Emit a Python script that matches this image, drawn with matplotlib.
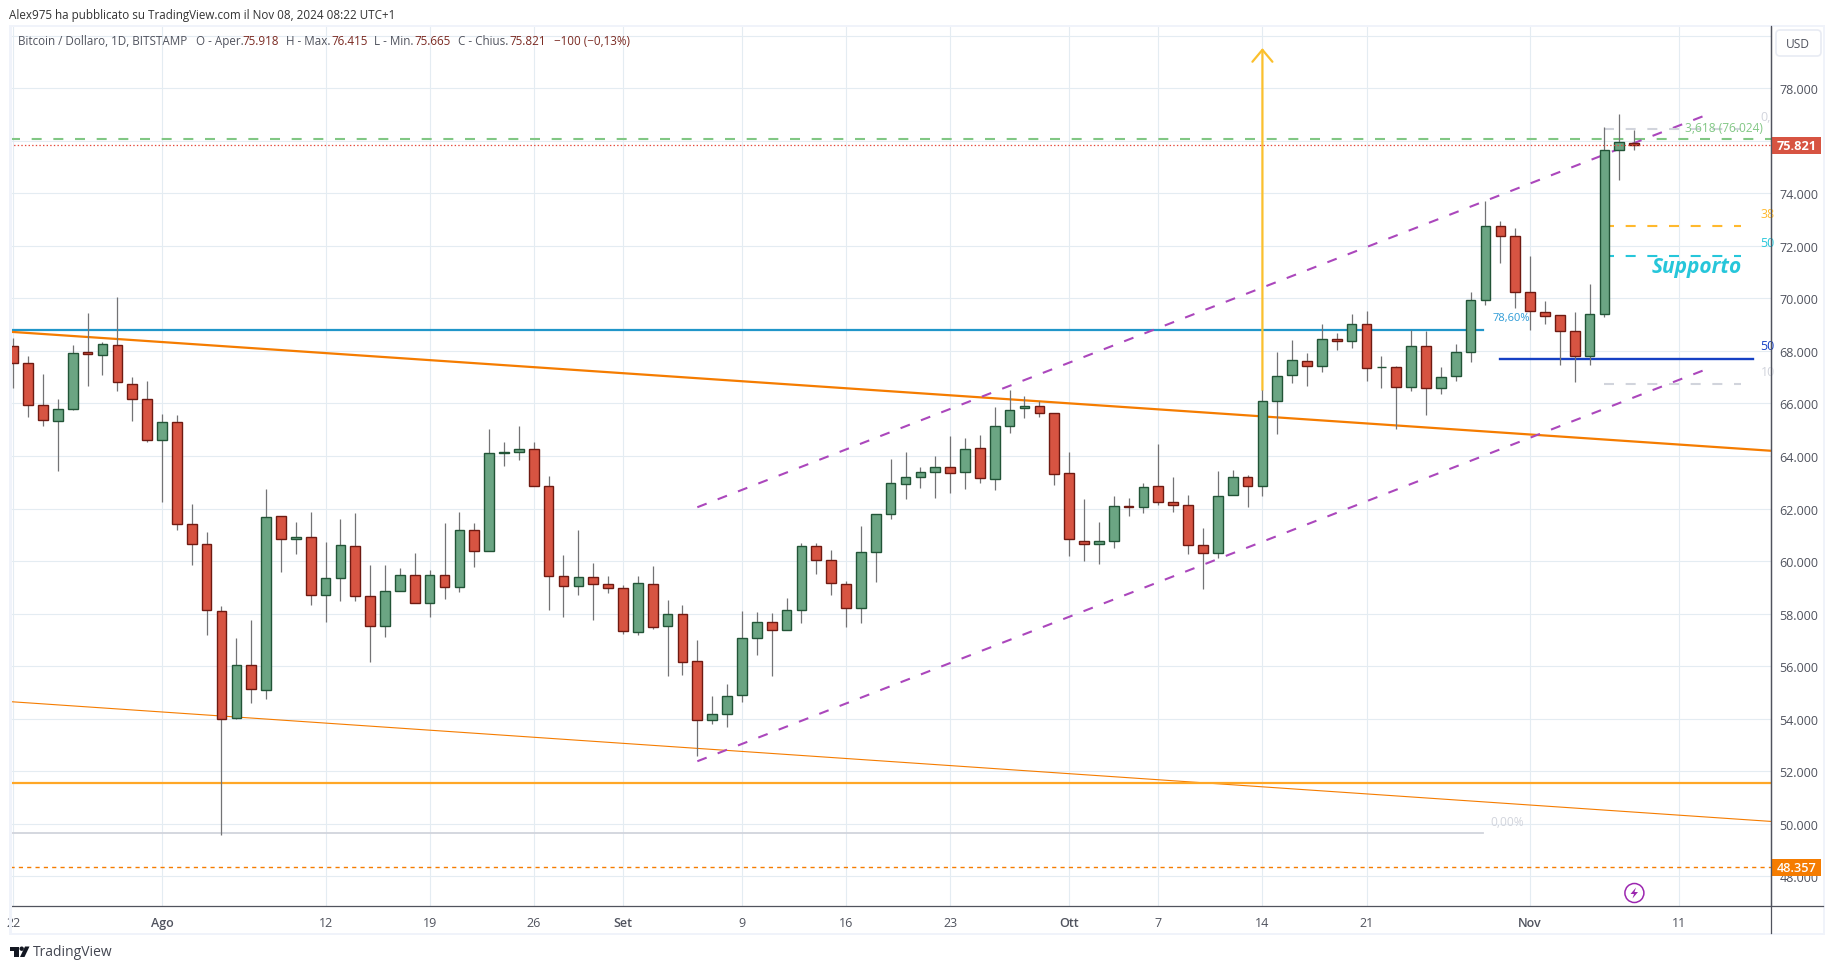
import matplotlib
matplotlib.use("Agg")
import matplotlib.pyplot as plt
from matplotlib.patches import Circle, FancyBboxPatch, Polygon, Rectangle
import numpy as np

plt.rcParams["font.family"] = ["Open Sans", "DejaVu Sans"]
plt.rcParams["lines.scale_dashes"] = False

# candele giornaliere in migliaia di dollari, dal 22 luglio all'8 novembre 2024
opens = [
    68.17, 67.56, 65.94, 65.35, 65.80, 67.96, 67.83, 68.24, 66.76, 66.18,
    64.62, 65.31, 61.42, 60.66, 58.11, 54.03, 56.06, 55.10, 61.73, 60.85,
    60.93, 58.72, 59.37, 60.59, 58.69, 57.54, 58.87, 59.48, 58.41, 59.46,
    59.00, 61.17, 60.37, 64.10, 64.17, 64.25, 62.84, 59.42, 59.04, 59.38,
    59.12, 58.97, 57.29, 59.12, 57.52, 57.98, 56.19, 53.95, 54.18, 54.90,
    57.06, 57.67, 57.37, 58.13, 60.56, 60.03, 59.12, 58.21, 60.33, 61.78,
    62.95, 63.19, 63.38, 63.57, 63.38, 64.29, 63.11, 65.16, 65.81, 65.89,
    65.62, 63.34, 60.75, 60.64, 60.75, 62.09, 62.05, 62.84, 62.24, 62.12,
    60.60, 60.30, 62.50, 63.19, 62.84, 66.08, 67.07, 67.60, 67.41, 68.44,
    68.37, 69.01, 67.37, 67.38, 66.61, 68.18, 66.58, 67.03, 67.95, 69.93,
    72.74, 72.36, 70.23, 69.47, 69.36, 68.75, 67.82, 69.39, 75.64, 75.918,
]
closes = [
    67.56, 65.94, 65.38, 65.80, 67.94, 67.89, 68.28, 66.80, 66.18, 64.62,
    65.31, 61.42, 60.66, 58.15, 54.00, 56.06, 55.14, 61.69, 60.85, 60.93,
    58.72, 59.37, 60.63, 58.68, 57.54, 58.87, 59.48, 58.41, 59.48, 59.00,
    61.17, 60.37, 64.10, 64.17, 64.25, 62.84, 59.42, 59.04, 59.38, 59.12,
    58.97, 57.33, 59.16, 57.48, 57.98, 56.15, 53.95, 54.18, 54.86, 57.06,
    57.67, 57.37, 58.13, 60.56, 60.03, 59.16, 58.21, 60.33, 61.78, 62.96,
    63.22, 63.38, 63.57, 63.34, 64.25, 63.15, 65.16, 65.77, 65.89, 65.62,
    63.30, 60.83, 60.64, 60.75, 62.08, 62.07, 62.81, 62.24, 62.12, 60.60,
    60.30, 62.46, 63.19, 62.84, 66.08, 67.06, 67.64, 67.41, 68.44, 68.37,
    69.01, 67.34, 67.38, 66.61, 68.18, 66.58, 66.99, 67.95, 69.93, 72.74,
    72.36, 70.23, 69.51, 69.34, 68.75, 67.82, 69.39, 75.64, 75.94, 75.821,
]
highs = [
    68.48, 67.80, 67.11, 66.17, 68.23, 69.44, 68.34, 70.06, 67.00, 66.85,
    65.59, 65.55, 62.17, 61.10, 58.28, 57.06, 57.75, 62.73, 61.73, 61.48,
    61.86, 60.72, 61.59, 61.82, 59.85, 59.85, 59.73, 60.30, 59.65, 61.45,
    61.87, 61.45, 65.02, 64.53, 65.14, 64.53, 63.24, 60.23, 61.18, 59.93,
    59.43, 59.08, 59.43, 59.81, 58.52, 58.33, 57.00, 54.87, 55.33, 58.10,
    58.07, 58.03, 58.60, 60.68, 60.68, 60.42, 59.23, 61.34, 61.78, 63.88,
    64.15, 63.58, 64.00, 64.76, 64.68, 64.80, 65.86, 66.51, 66.28, 66.08,
    65.62, 64.15, 62.36, 61.49, 62.48, 62.40, 62.97, 64.45, 63.20, 62.51,
    61.26, 63.43, 63.47, 63.26, 66.51, 67.96, 68.42, 67.92, 69.03, 68.68,
    69.41, 69.52, 67.81, 67.43, 68.80, 68.76, 67.39, 68.26, 70.24, 73.70,
    72.95, 72.68, 71.61, 69.90, 69.36, 69.48, 70.55, 76.51, 77.02, 76.415,
]
lows = [
    66.59, 65.49, 65.15, 63.44, 65.76, 66.68, 67.08, 66.48, 65.34, 64.54,
    62.25, 61.18, 59.86, 57.18, 49.58, 53.97, 54.61, 54.76, 59.58, 60.28,
    58.34, 57.69, 58.48, 58.48, 56.17, 57.11, 58.87, 58.41, 57.87, 58.57,
    58.84, 59.79, 60.37, 63.63, 63.86, 62.84, 58.12, 57.89, 58.72, 57.74,
    58.80, 57.24, 57.17, 57.43, 55.64, 55.68, 52.57, 53.78, 53.67, 54.62,
    56.44, 55.61, 57.37, 57.66, 59.49, 58.72, 57.51, 57.66, 59.22, 61.60,
    62.38, 62.79, 62.41, 62.60, 62.76, 62.98, 62.72, 64.88, 65.45, 65.49,
    62.91, 60.21, 60.02, 59.90, 60.51, 61.73, 61.84, 62.15, 61.88, 60.28,
    58.92, 60.11, 62.50, 62.07, 62.49, 64.85, 66.79, 66.68, 67.21, 68.05,
    68.12, 66.87, 66.60, 65.03, 66.49, 65.57, 66.37, 66.87, 67.59, 69.76,
    71.36, 69.65, 68.81, 69.04, 67.48, 66.83, 67.48, 69.30, 74.52, 75.665,
]

price_ticks = [48, 50, 52, 54, 56, 58, 60, 62, 64, 66, 68, 70, 72, 74, 76, 78, 80]
price_labels = ["48.000", "50.000", "52.000", "54.000", "56.000", "58.000", "60.000", "62.000",
                "64.000", "66.000", "68.000", "70.000", "72.000", "74.000", "76.000", "78.000", ""]
date_ticks = [0, 10, 21, 28, 35, 41, 49, 56, 63, 71, 77, 84, 91, 102, 112]
date_labels = ["22", "Ago", "12", "19", "26", "Set", "9", "16", "23", "Ott", "7", "14", "21", "Nov", "11"]
month_labels = ["Ago", "Set", "Ott", "Nov"]

# disegni sul grafico
last_price = 75.821
fib_618 = 76.07
support_orange = 48.357
resistance_blue = 68.79
support_amber = 51.56
fib_zero = 49.66
wedge_top_x, wedge_top_y = [-0.22, 118.2], [68.73, 64.2]
wedge_low_x, wedge_low_y = [-0.22, 118.2], [54.65, 50.09]
channel_x = [46.0, 114.2]
channel_top = [62.05, 77.06]
channel_low = [52.38, 67.38]
arrow_x, arrow_from, arrow_to = 84, 66.51, 79.53
fib_x = [107, 116.2]
fib_levels = [76.45, 72.75, 71.61, 66.74]
fib_colors = ["#d1d4dc", "#ffb92d", "#26c6da", "#d1d4dc"]
blue_x, blue_y = [100, 117], 67.69

UP, UP_EDGE = "#6ba583", "#225437"
DOWN, DOWN_EDGE = "#d75442", "#6f1a12"
WICK = "#737375"
GRID = "#e4ecf2"
TEXT = "#50535e"
AXIS = "#50535e"
PANEL = "#f0f3fa"
VALUE = "#7b2a22"

fig = plt.figure(figsize=(18.35, 9.70), dpi=100, facecolor="white")
W, H = 1835.0, 970.0
ax = fig.add_axes([10 / W, (H - 907) / H, 1761 / W, 880 / H])
ax.set_xlim(-0.22, 118.2)
ax.set_ylim(46.87, 80.37)

ax.set_xticks(date_ticks)
ax.set_xticklabels(date_labels)
ax.set_yticks(price_ticks)
ax.set_yticklabels(price_labels)
ax.yaxis.tick_right()
ax.tick_params(axis="both", length=0, labelsize=9, labelcolor=TEXT)
ax.tick_params(axis="y", pad=6.2)
ax.tick_params(axis="x", pad=7)
ax.grid(True, color=GRID, lw=0.8)
ax.set_axisbelow(True)
for name in ["left", "top"]:
    ax.spines[name].set_visible(False)
for name in ["right", "bottom"]:
    ax.spines[name].set_color(AXIS)
    ax.spines[name].set_linewidth(0.9)
for lab in ax.get_xticklabels():
    if lab.get_text() in month_labels:
        lab.set_fontweight("semibold")

# livelli e trendline
ax.axhline(resistance_blue, xmax=(98.8 + 0.22) / 118.42, color="#2196c9", lw=1.6, zorder=2)
ax.plot(wedge_top_x, wedge_top_y, color="#f57c00", lw=1.6, zorder=2)
ax.plot(wedge_low_x, wedge_low_y, color="#f57c00", lw=0.8, zorder=2)
ax.axhline(support_amber, color="#ffa726", lw=1.6, zorder=2)
ax.axhline(fib_zero, xmax=(98.8 + 0.22) / 118.42, color="#d1d4dc", lw=1.3, zorder=2)
ax.axhline(support_orange, color="#f57c00", lw=1.0, ls=(0, (3, 3)), zorder=2)
ax.axhline(fib_618, color="#81c784", lw=1.5, ls=(0, (7.2, 8.4)), zorder=2)
ax.axhline(last_price, color="#e5483a", lw=0.9, ls=(0, (1, 1.6)), zorder=5)
ax.plot(channel_x, channel_top, color="#ab47bc", lw=1.5, ls=(0, (7.2, 8.5)), zorder=2)
ax.plot(channel_x, channel_low, color="#ab47bc", lw=1.5, ls=(0, (7.2, 8.5)), zorder=2)
for level, col in zip(fib_levels, fib_colors):
    ax.plot(fib_x, [level, level], color=col, lw=1.5, ls=(0, (7.2, 8.4)), zorder=2)
ax.plot(blue_x, [blue_y, blue_y], color="#1540c4", lw=1.7, zorder=2)
ax.annotate("", xy=(arrow_x, arrow_to), xytext=(arrow_x, arrow_from), zorder=2,
            arrowprops=dict(arrowstyle="->,head_length=0.86,head_width=0.72", color="#fbc02d",
                            lw=1.6, shrinkA=0, shrinkB=0, mutation_scale=10))

# candele
x = np.arange(len(opens))
o, c, h, l = map(np.array, (opens, closes, highs, lows))
rising = c >= o
ax.vlines(x, l, h, color=WICK, lw=0.9, zorder=3)
ax.bar(x[rising], (c - o)[rising], bottom=o[rising], width=0.65, color=UP, edgecolor=UP_EDGE, lw=1.0, zorder=4)
ax.bar(x[~rising], (o - c)[~rising], bottom=c[~rising], width=0.65, color=DOWN, edgecolor=DOWN_EDGE, lw=1.0, zorder=4)

# etichette dei disegni: si vede solo la parte prima dell'asse
ax.text(99.5, 69.27, "78,60%", color="#2e9bd6", fontsize=8, ha="left", va="center", zorder=6)
ax.text(99.3, 50.08, "0,00%", color="#d1d4dc", fontsize=8.6, ha="left", va="center", zorder=6)
ax.text(117.5, 76.93, "0,", color="#d1d4dc", fontsize=9, ha="left", va="center")
ax.text(117.5, 73.25, "38", color="#ffb92d", fontsize=9, ha="left", va="center")
ax.text(117.5, 72.11, "50", color="#26c6da", fontsize=9, ha="left", va="center")
ax.text(117.5, 68.19, "50", color="#1540c4", fontsize=9, ha="left", va="center")
ax.text(117.5, 67.2, "10", color="#d1d4dc", fontsize=9, ha="left", va="center")
ax.text(112.4, 76.51, "3,618 (76.024)", color="#81c784", fontsize=8.6, ha="left", va="center", zorder=6)
ax.text(110.2, 71.2, "Supporto", color="#26c6da", fontsize=15, style="italic", fontweight="bold",
        ha="left", va="center", zorder=6)

# cornice e testi attorno al grafico, in pixel
pix = fig.add_axes([0, 0, 1, 1], facecolor="none")
pix.set_xlim(0, W)
pix.set_ylim(H, 0)
pix.axis("off")
for rect in [(9, 26, 1815, 2), (9, 934, 1815, 2), (9, 26, 2.5, 910), (1823, 26, 2, 910)]:
    pix.add_patch(Rectangle(rect[:2], rect[2], rect[3], color=PANEL, lw=0))
pix.plot([1771, 1771], [27, 934], color=AXIS, lw=0.9)
pix.plot([1771, 1823], [907, 907], color=AXIS, lw=0.9)

pix.add_patch(FancyBboxPatch((1778, 33), 41, 22, boxstyle="round,pad=2,rounding_size=4",
                             fc="white", ec="#e8ebf3", lw=1.2))
pix.text(1798, 44, "USD", color=TEXT, fontsize=8.6, ha="center", va="center")
pix.add_patch(Rectangle((1772, 138), 49, 17, color="#d75442", lw=0))
pix.text(1796.5, 146.5, "75.821", color="white", fontsize=9.2, fontweight="bold", ha="center", va="center")
pix.add_patch(Rectangle((1772, 860), 49, 17, color="#f57c00", lw=0))
pix.text(1796.5, 868.5, "48.357", color="white", fontsize=9.2, fontweight="semibold", ha="center", va="center")

# evento nel riquadro prezzi
pix.add_patch(Circle((1634.4, 894), 9.5, fc="white", ec="#9c27b0", lw=1.1))
pix.add_patch(Polygon([(1636, 888.5), (1630.5, 895), (1634, 895), (1632.5, 899.5), (1638, 893), (1634.5, 893)],
                      color="#9c27b0", lw=0))

pix.text(9, 15, "Alex975 ha pubblicato su TradingView.com il Nov 08, 2024 08:22 UTC+1",
         color="#333333", fontsize=8.4, ha="left", va="center")
header = [
    (18, "Bitcoin / Dollaro, 1D, BITSTAMP", TEXT), (196, "O - Aper.", TEXT), (242, "75.918", VALUE),
    (286, "H - Max.", TEXT), (331, "76.415", VALUE), (374, "L - Min.", TEXT), (414, "75.665", VALUE),
    (458, "C - Chius.", TEXT), (509, "75.821", VALUE), (553.6, "\u2212100 (\u22120,13%)", VALUE),
]
for px, txt, col in header:
    pix.text(px, 41.7, txt, color=col, fontsize=8.4, ha="left", va="center")

# logo in basso
pix.add_patch(Polygon([(10, 947.5), (19, 947.5), (19, 958), (14, 958), (14, 952), (10, 952)], color="#131722", lw=0))
pix.add_patch(Circle((21.7, 949.7), 2.2, color="#131722", lw=0))
pix.add_patch(Polygon([(25, 947.5), (29.5, 947.5), (24.5, 958), (20, 958)], color="#131722", lw=0))
pix.text(33, 952.5, "TradingView", color="#434651", fontsize=10, ha="left", va="center")

fig.savefig("out.png", dpi=100, facecolor="white")
